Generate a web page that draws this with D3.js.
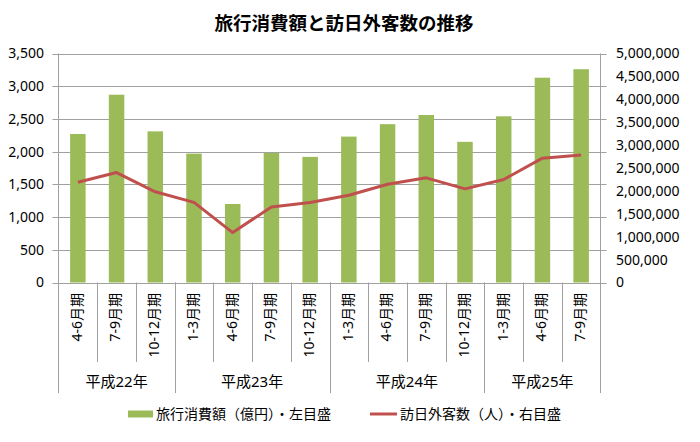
<!DOCTYPE html>
<html><head><meta charset="utf-8">
<script src="https://cdn.jsdelivr.net/npm/d3@7"></script>
<style>body{margin:0;background:#fff}svg{display:block}text{font-family:"Noto Sans CJK JP","Noto Sans",sans-serif;fill:#000}.num{font-family:"Noto Sans","Noto Sans CJK JP",sans-serif}</style>
</head><body><svg id="c" width="700" height="442"></svg>
<script>
const categories = ["4-6月期","7-9月期","10-12月期","1-3月期","4-6月期","7-9月期","10-12月期","1-3月期","4-6月期","7-9月期","10-12月期","1-3月期","4-6月期","7-9月期"];
const yearGroups = [{label:"平成22年",count:3},{label:"平成23年",count:4},{label:"平成24年",count:4},{label:"平成25年",count:3}];
const spending = [2270,2870,2310,1970,1200,1980,1920,2230,2420,2560,2150,2540,3130,3260];
const visitors = [2190000,2400000,1980000,1750000,1090000,1650000,1745000,1905000,2145000,2285000,2045000,2250000,2715000,2785000];
const leftTicks = [0,500,1000,1500,2000,2500,3000,3500];
const rightTicks = [0,500000,1000000,1500000,2000000,2500000,3000000,3500000,4000000,4500000,5000000];
const title = "旅行消費額と訪日外客数の推移";
const legendBar = "旅行消費額（億円）・左目盛";
const legendLine = "訪日外客数（人）・右目盛";

const svg = d3.select("#c");
const L = 58.5, R = 600.5, T = 53.5, B = 282.5;
const grid = "#a0a0a0";
const x = d3.scaleBand().domain(d3.range(categories.length)).range([L, R]).paddingInner(0.6).paddingOuter(0.3);
const xb = d3.scaleLinear().domain([0, categories.length]).range([L, R]);
const yL = d3.scaleLinear().domain([0, 3500]).range([B, T]);
const yR = d3.scaleLinear().domain([0, 5000000]).range([B, T]);
const fmt = d3.format(",");

svg.append("text").attr("x", 344).attr("y", 30).attr("text-anchor", "middle")
  .attr("font-size", 18.5).attr("font-weight", "bold").text(title);

// gridlines
svg.append("g").selectAll("line").data(leftTicks).join("line")
  .attr("x1", L - 6).attr("x2", R + 6)
  .attr("y1", d => Math.round(yL(d)) + 0.5).attr("y2", d => Math.round(yL(d)) + 0.5)
  .attr("stroke", grid).attr("stroke-width", 1);

// axes lines
svg.append("line").attr("x1", L).attr("x2", L).attr("y1", T).attr("y2", 393).attr("stroke", grid);
svg.append("line").attr("x1", R).attr("x2", R).attr("y1", T).attr("y2", 393).attr("stroke", grid);

// category separators
svg.append("g").selectAll("line").data(d3.range(1, categories.length)).join("line")
  .attr("x1", d => Math.round(xb(d)) + 0.5).attr("x2", d => Math.round(xb(d)) + 0.5)
  .attr("y1", B).attr("y2", 362).attr("stroke", grid);
// group separators
let cum = 0; const groupBounds = [];
yearGroups.forEach(g => { groupBounds.push({start: cum, end: cum + g.count, label: g.label}); cum += g.count; });
svg.append("g").selectAll("line").data(groupBounds.slice(1)).join("line")
  .attr("x1", d => Math.round(xb(d.start)) + 0.5).attr("x2", d => Math.round(xb(d.start)) + 0.5)
  .attr("y1", B).attr("y2", 393).attr("stroke", grid);

// bars
svg.append("g").selectAll("rect").data(spending).join("rect")
  .attr("x", (d, i) => x(i)).attr("width", x.bandwidth())
  .attr("y", d => yL(d)).attr("height", d => yL(0) - yL(d))
  .attr("fill", "#9bbb59");

// line
const line = d3.line().x((d, i) => x(i) + x.bandwidth() / 2).y(d => yR(d));
svg.append("path").datum(visitors).attr("d", line).attr("fill", "none")
  .attr("stroke", "#c0504d").attr("stroke-width", 3).attr("stroke-linejoin", "round");

// left tick labels
svg.append("g").selectAll("text").data(leftTicks).join("text").attr("class", "num")
  .attr("x", 44).attr("y", d => yL(d)).attr("dy", "0.35em").attr("text-anchor", "end")
  .attr("font-size", 14).text(d => fmt(d));
// right tick labels
svg.append("g").selectAll("text").data(rightTicks).join("text").attr("class", "num")
  .attr("x", 616).attr("y", d => yR(d)).attr("dy", "0.35em").attr("text-anchor", "start")
  .attr("font-size", 14).text(d => fmt(d));

// category labels
svg.append("g").selectAll("text").data(categories).join("text").attr("class", "num")
  .attr("transform", (d, i) => `translate(${xb(i + 0.5) - 1},293) rotate(-90)`)
  .attr("text-anchor", "end").attr("dy", "0.35em").attr("font-size", 14).text(d => d);

// group labels
svg.append("g").selectAll("text").data(groupBounds).join("text").attr("class", "num")
  .attr("x", d => xb((d.start + d.end) / 2)).attr("y", 387).attr("text-anchor", "middle")
  .attr("font-size", 15).text(d => d.label);

// legend
svg.append("rect").attr("x", 128).attr("y", 410.5).attr("width", 25).attr("height", 7).attr("fill", "#9bbb59");
svg.append("text").attr("x", 156).attr("y", 419).attr("font-size", 14).text(legendBar);
svg.append("line").attr("x1", 370).attr("x2", 397).attr("y1", 414).attr("y2", 414).attr("stroke", "#c0504d").attr("stroke-width", 3);
svg.append("text").attr("x", 400).attr("y", 419).attr("font-size", 14).text(legendLine);
</script></body></html>
